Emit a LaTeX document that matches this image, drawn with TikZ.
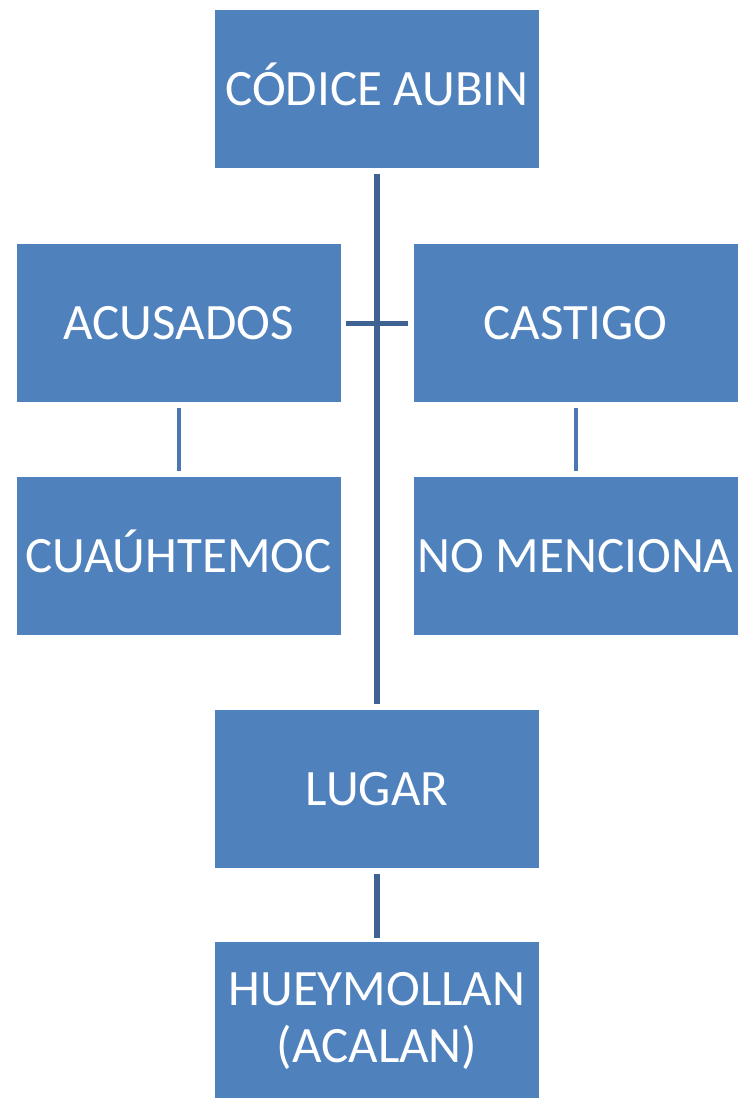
\documentclass[tikz,border=0pt]{standalone}
\usepackage{fontspec}
\setmainfont{Carlito}
\definecolor{boxblue}{RGB}{79,129,189}
\definecolor{linedark}{RGB}{62,98,146}
\definecolor{linemid}{RGB}{74,120,176}
\begin{document}
\begin{tikzpicture}[x=1pt,y=-1pt,
  box/.style={draw=none,fill=boxblue,text=white,minimum width=324pt,minimum height=158pt,inner sep=0pt,align=center,font=\fontsize{51}{57}\selectfont},
  oneline/.style={text height=33pt,text depth=0pt},
  mainline/.style={draw=linedark,line width=5.5pt},
  subline/.style={draw=linemid,line width=4pt}]
\useasboundingbox (0,0) rectangle (743,1098);
\node[box,oneline] (codice) at (377,89) {CÓDICE AUBIN};
\node[box,oneline] (acusados) at (178.5,323) {ACUSADOS};
\node[box,oneline] (castigo) at (575.5,323) {CASTIGO};
\node[box,oneline] (cuau) at (178.5,556) {CUAÚHTEMOC};
\node[box,oneline] (nomen) at (575.5,556) {NO MENCIONA};
\node[box,oneline] (lugar) at (377,789) {LUGAR};
\node[box] (huey) at (377,1021) {HUEYMOLLAN\\(ACALAN)};
\draw[mainline,shorten <=6pt,shorten >=6pt] (codice) -- (lugar);
\draw[mainline,line width=5pt,shorten <=5pt,shorten >=5pt] (acusados) -- (castigo);
\draw[subline,shorten <=6pt,shorten >=6pt] (acusados) -- (cuau);
\draw[subline,shorten <=6pt,shorten >=6pt] (castigo) -- (nomen);
\draw[mainline,shorten <=6pt,shorten >=4pt] (lugar) -- (huey);
\end{tikzpicture}
\end{document}
